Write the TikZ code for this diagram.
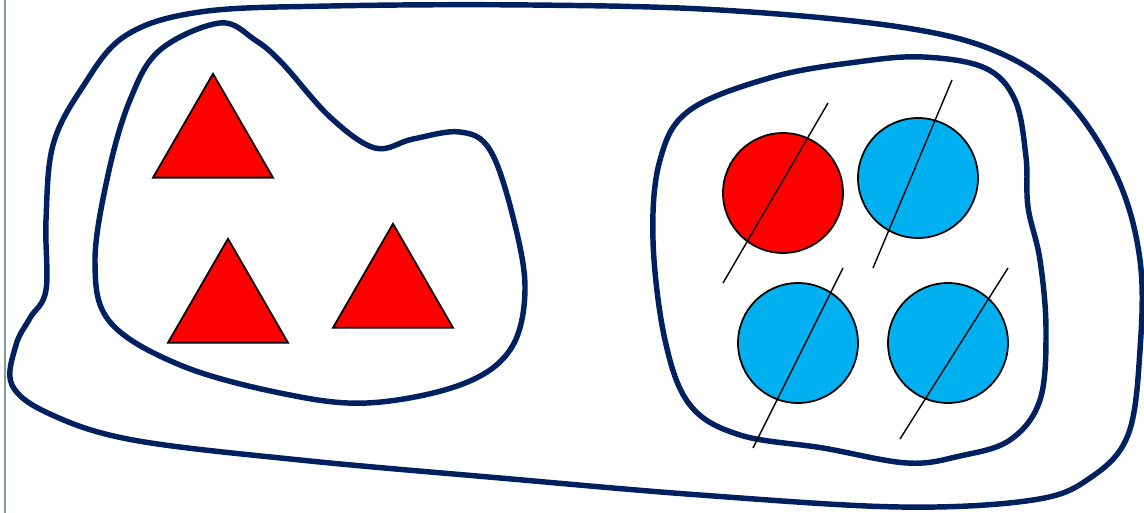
\documentclass[tikz,border=0pt]{standalone}
\usepackage{xcolor}
\usepackage{tikz}
\usetikzlibrary{shapes.geometric, positioning, calc}
\definecolor{SetNavy}{HTML}{002060}
\definecolor{ShapeRed}{HTML}{FF0000}
\definecolor{ShapeBlue}{HTML}{00B0F0}
\definecolor{EdgeGray}{HTML}{7F9A9A}
\tikzset{
  setline/.style={draw=SetNavy, line width=3.1pt, line join=round},
  tri/.style={regular polygon, regular polygon sides=3, draw=black,
    fill=ShapeRed, line width=1pt, inner sep=0pt, minimum size=2.771cm},
  disc/.style={circle, draw=black, line width=1pt, inner sep=0pt,
    minimum size=2.4cm},
  slash/.style={draw=black, line width=0.8pt},
}

\begin{document}
\begin{tikzpicture}[x=0.02cm, y=-0.02cm]
  \useasboundingbox (0,0) rectangle (1144,513);

  % Page edge
  \draw[EdgeGray, line width=1.2pt] (5,0) -- (5,513);

  % Outer set
  \draw[setline] plot[smooth cycle, tension=0.6] coordinates {
    (46,290) (46,220) (53,145) (82,88) (125,36)
    (200,12) (330,6) (530,5) (720,10) (900,27) (1000,53) (1067,100)
    (1117,177) (1140,260) (1140,350) (1128,435) (1090,478) (1033,500)
    (900,507) (700,495) (500,478) (300,460) (133,440)
    (50,414) (12,385) (16,345) (30,318)};

  % Left set (triangles)
  \draw[setline] plot[smooth cycle, tension=0.6] coordinates {
    (220,23) (255,40) (282,63) (330,117) (375,148)
    (413,139) (460,132) (490,150) (513,217)
    (525,290) (510,350) (460,385) (367,403) (280,393)
    (180,365) (110,322) (95,262) (108,175)
    (130,100) (160,50)};

  % Right set (circles)
  \draw[setline] plot[smooth cycle, tension=0.6] coordinates {
    (923,57) (985,68) (1015,100) (1026,157) (1028,207)
    (1040,260) (1046,330) (1040,400) (1010,440) (960,456) (907,463)
    (823,448) (740,435) (690,405) (665,340) (653,240)
    (660,160) (690,110) (773,77) (857,62)};

  % Triangles
  \node[tri] (tA) at (213,143) {};
  \node[tri] (tB) at (228,308) {};
  \node[tri] (tC) at (393,293) {};

  % Circles
  \node[disc, fill=ShapeRed]  (cA) at (783,193) {};
  \node[disc, fill=ShapeBlue] (cB) at (918,178) {};
  \node[disc, fill=ShapeBlue] (cC) at (798,343) {};
  \node[disc, fill=ShapeBlue] (cD) at (948,343) {};

  % Strokes through the circles
  \draw[slash] (723,283) -- (828,103);
  \draw[slash] (873,268) -- (952,80);
  \draw[slash] (753,448) -- (843,268);
  \draw[slash] (900,439) -- (1008,268);

\end{tikzpicture}
\end{document}
